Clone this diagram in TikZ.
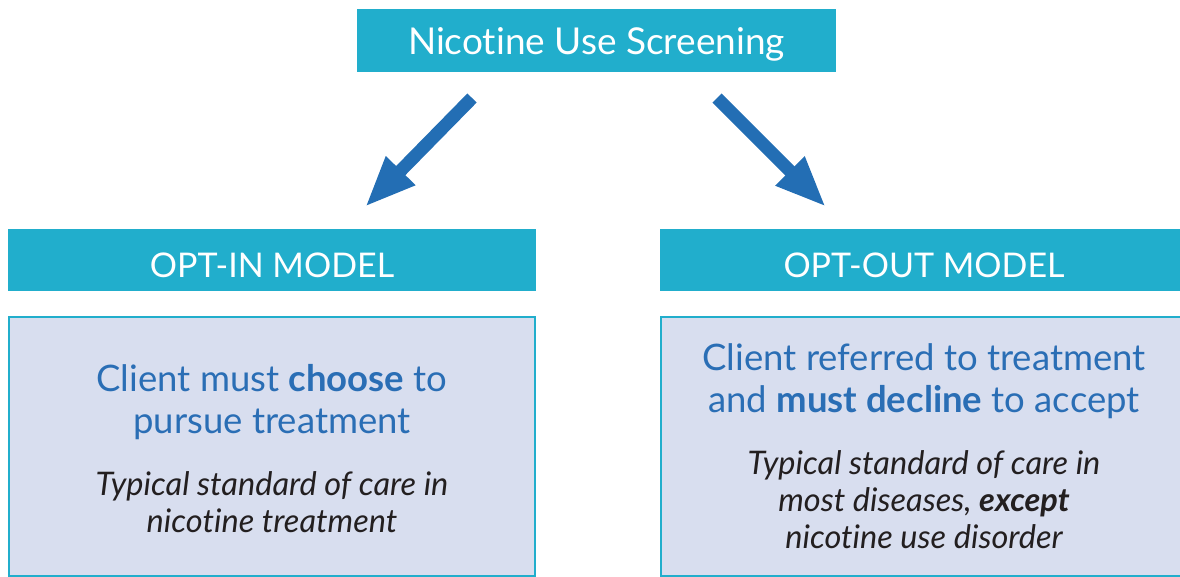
\documentclass[tikz,border=0pt]{standalone}
\usepackage{fontspec}
\setmainfont{Lato}[Ligatures=NoCommon]
\usetikzlibrary{arrows.meta}
\definecolor{teal}{HTML}{21AECC}
\definecolor{boxfill}{HTML}{D8DEEF}
\definecolor{bluetxt}{HTML}{2A6EB5}
\definecolor{arrowblue}{HTML}{236EB4}
\definecolor{darktxt}{HTML}{231F20}
\tikzset{
  header/.style={fill=teal, text=white, minimum width=528pt, minimum height=62pt, inner sep=0pt, text height=34pt, text depth=0pt, font=\fontsize{34}{40}\selectfont},
  topbox/.style={fill=teal, text=white, minimum width=479pt, minimum height=63pt, inner sep=0pt, text height=29pt, text depth=0pt, font=\fontsize{37}{40}\selectfont},
  bodybox/.style={fill=boxfill, draw=teal, line width=2.5pt, minimum width=526pt, minimum height=259pt, inner sep=0pt},
  bluetext/.style={text=bluetxt, align=center, inner sep=0pt, anchor=base, font=\fontsize{36.5}{42}\selectfont},
  ittext/.style={text=darktxt, align=center, inner sep=0pt, anchor=base, font=\itshape\fontsize{32.5}{37}\selectfont},
  bigarrow/.style={draw=arrowblue, line width=13pt, -{Triangle[length=51pt 0 0, width=37.5pt 0 0, fill=arrowblue]}}
}
\begin{document}
\begin{tikzpicture}[x=1pt, y=-1pt]
\useasboundingbox (0,0) rectangle (1180,577);
\node[topbox] (top) at (596.5,40.5) {Nicotine Use Screening};
\node[header] (hin) at (272,260) {OPT-IN MODEL};
\node[header] (hout) at (924,260) {OPT-OUT MODEL};
\node[bodybox] (bin) at (272,446.5) {};
\node[bodybox] (bout) at (924,446.5) {};
\node[bluetext] (tin) at (272,433) {Client must \textbf{choose} to\\pursue treatment};
\node[ittext] (iin) at (272,532) {Typical standard of care in\\nicotine treatment};
\node[bluetext] (tout) at (924,412) {Client referred to treatment\\and \textbf{must decline} to accept};
\node[ittext] (iout) at (924,548) {Typical standard of care in\\most diseases, \textbf{except}\\nicotine use disorder};
\coordinate (a1s) at (472,98);
\coordinate (a1e) at (365,207);
\coordinate (a2s) at (717,98);
\coordinate (a2e) at (826,207);
\draw[bigarrow] (a1s) -- (a1e);
\draw[bigarrow] (a2s) -- (a2e);
\end{tikzpicture}
\end{document}
